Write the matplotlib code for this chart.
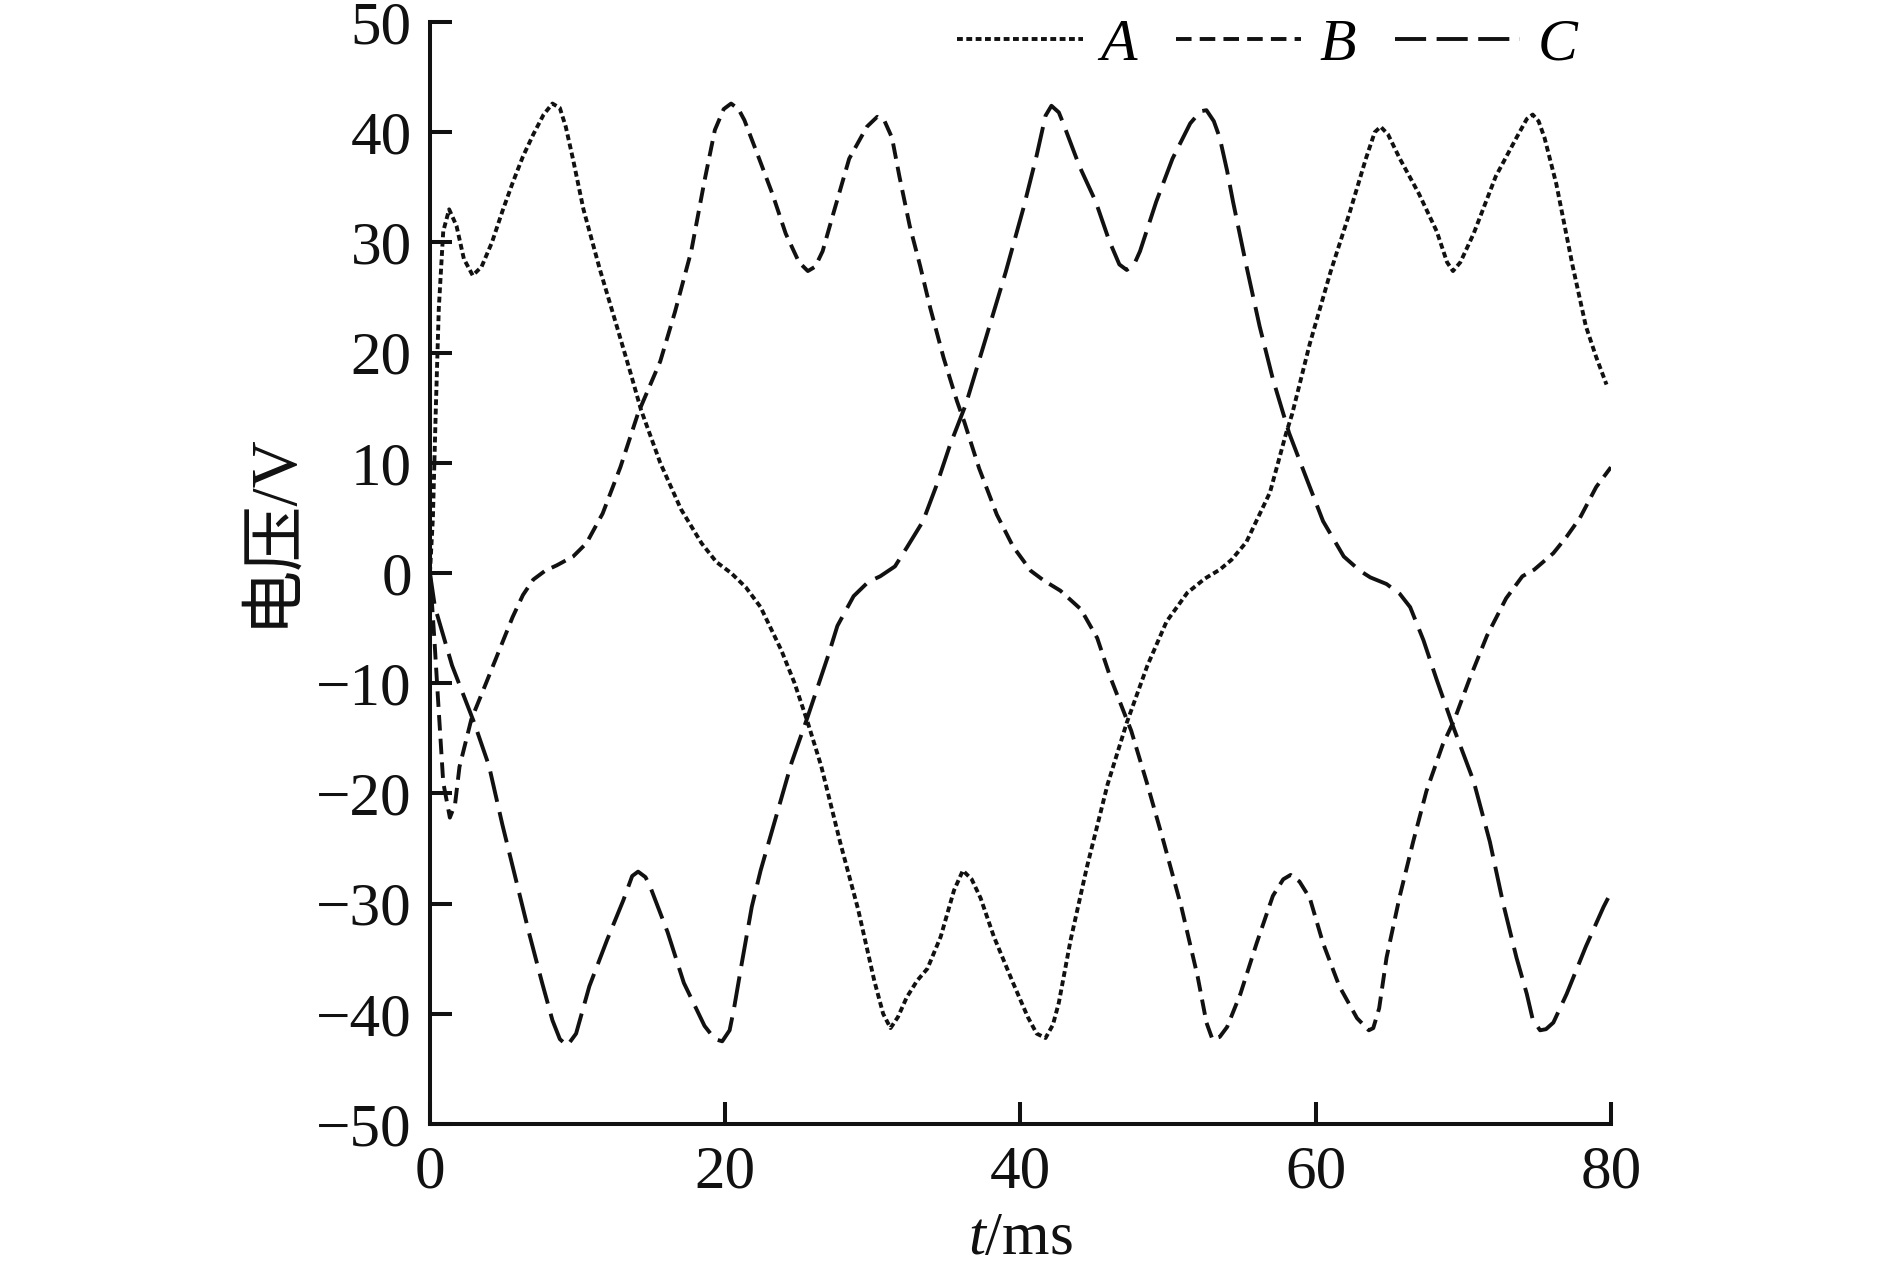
import matplotlib
matplotlib.use('Agg')
import matplotlib.pyplot as plt
from matplotlib.font_manager import FontProperties

# values, t in ms, voltage in V
a_t = [0, 0.2, 0.4, 0.6, 0.9, 1.3, 1.8, 2.3, 2.9, 3.5, 4.2, 4.9, 5.6, 6.3, 7.0, 7.7, 8.3, 8.8,
       9.2, 9.7, 10.4, 11.5, 12.7, 13.6, 14.3, 15.6, 17.0, 18.4, 19.4, 20.4, 21.4, 22.4, 23.8,
       24.7, 25.6, 26.5, 27.8, 29.0, 30.1, 30.7, 31.2, 31.7, 32.3, 33.0, 33.7, 34.6, 35.5, 36.1,
       36.7, 37.3, 38.2, 39.5, 40.5, 41.1, 41.7, 42.2, 42.6, 43.4, 44.5, 45.9, 47.2, 48.6, 49.9,
       51.3, 52.5, 53.5, 54.3, 55.3, 56.9, 58.0, 58.4, 59.6, 61.0, 62.3, 63.4, 64.0, 64.4, 64.9,
       65.7, 67.0, 68.2, 68.9, 69.3, 69.8, 70.7, 72.2, 73.6, 74.3, 74.7, 75.1, 75.5, 76.3, 77.4,
       78.3, 79.0, 79.7]
a_v = [0, 5, 15, 24, 31, 33, 31.5, 28.5, 27, 27.8, 30, 32.8, 35.4, 37.8, 39.8, 41.6, 42.6, 42.2,
       40.5, 37.5, 33, 27.6, 22.2, 18.1, 14.8, 10, 5.8, 2.7, 1.0, 0, -1.3, -3.1, -7,
       -10, -13.6, -17.5, -24.5, -30.5, -37, -40, -41.3, -40.3, -38.5, -37, -35.9, -33, -28.8, -27,
       -27.8, -29.5, -33, -37.2, -40.3, -41.8, -42.2, -41, -39, -33.3, -26.7, -19.2, -13.6, -8.4, -4.4,
       -1.8, -0.5, 0.3, 1.2, 2.8, 7.3, 12.7, 14.4, 20.8, 27.3, 32.7, 37.6, 40, 40.5, 39.8,
       37.6, 34.4, 31, 28.2, 27.4, 28.2, 30.8, 36, 39.5, 41.2, 41.6, 41.0, 39.5, 35.3, 27.9,
       22.4, 19.6, 17.1]

b_t = [0, 0.3, 0.55, 0.9, 1.35, 1.7, 2.0, 2.8, 3.8, 4.7, 5.6, 6.3, 7.0, 7.8, 8.6, 9.7, 10.6,
       11.7, 12.9, 14.1, 15.6, 16.6, 17.7, 18.6, 19.3, 19.9, 20.4, 20.9, 21.3, 22.3, 23.2, 24.1,
       25.0, 25.6, 26.1, 26.6, 27.3, 28.4, 29.6, 30.3, 30.8, 31.3, 31.8, 32.5, 33.2, 33.9, 34.8,
       35.7, 36.2, 37.2, 38.4, 39.5, 40.7, 41.6, 42.7, 44.1, 45.2, 46.1, 47.0, 47.5, 48.6, 49.7,
       50.9, 52.0, 52.6, 53.0, 53.5, 54.0, 54.9, 56.0, 57.1, 57.8, 58.3, 58.9, 59.6, 60.5, 61.6,
       62.8, 63.6, 63.9, 64.3, 64.8, 65.7, 66.6, 67.5, 68.6, 69.4, 70.4, 71.6, 72.9, 74.0, 74.8,
       76.1, 77.0, 77.9, 79.0, 80.0]
b_v = [0, -6, -11.5, -19, -22.2, -21, -17.6, -13.3, -10, -7, -4, -2, -0.6, 0.2, 0.7, 1.5, 2.7,
       5.4, 9.6, 14.5, 19.2, 23.7, 29.2, 35.6, 40.2, 42.1, 42.6, 42.1, 41.1, 37.6, 34.4, 30.8,
       28.2, 27.4, 27.8, 29.2, 32.5, 37.6, 40.5, 41.4, 41.0, 39.5, 36, 31.5, 27.9, 24, 19.5,
       15.6, 13.7, 9.5, 5.3, 2.4, 0.2, -0.7, -1.6, -3.3, -5.9, -9.5, -12.6, -14.3, -19.2, -24.4,
       -30.3, -36.6, -40.8, -42.3, -42.1, -41.2, -38.2, -33.6, -29.3, -27.8, -27.4, -28.0, -29.5, -33.6, -37.5,
       -40.4, -41.5, -41.3, -39.5, -34.9, -29.3, -24.4, -19.8, -15.6, -13.3, -9.7, -5.7, -2.3, -0.3, 0.3,
       1.8, 3.3, 5, 7.8, 9.6]

c_t = [0, 0.34, 1.5, 3.0, 4.0, 4.9, 5.8, 6.7, 7.6, 8.3, 8.8, 9.3, 9.9, 10.8, 12.0, 13.1, 13.7,
       14.1, 14.6, 14.9, 16.1, 17.2, 18.6, 19.3, 19.8, 20.3, 20.6, 21.1, 21.8, 22.4, 23.3, 24.5,
       25.6, 27.0, 27.6, 28.7, 29.7, 30.5, 31.5, 32.3, 33.4, 34.3, 35.2, 36.3, 37.7, 39.0, 40.2,
       41.1, 41.7, 42.1, 42.6, 42.9, 44.0, 45.1, 46.0, 46.7, 47.2, 47.7, 48.1, 49.2, 50.3, 51.5,
       52.2, 52.6, 53.1, 53.5, 54.0, 54.4, 55.3, 56.2, 57.1, 58.2, 59.4, 60.5, 61.9, 63.0, 63.7,
       64.8, 65.7, 66.4, 67.3, 68.2, 69.3, 70.7, 71.8, 72.7, 73.6, 74.3, 74.7, 75.2, 75.6, 76.1,
       77.0, 78.3, 79.5, 80.0]
c_v = [0, -3.1, -8.4, -13.6, -17.5, -22.8, -27.7, -32.6, -37.2, -40.6, -42.3, -42.9, -41.8, -37.5, -33.3, -29.7, -27.5,
       -27.1, -27.6, -28.4, -32.6, -37.2, -41.1, -42.3, -42.5, -41.5, -39.5, -35.6, -30.3, -27, -22.8, -17.2,
       -13, -7.4, -4.8, -2.1, -0.8, -0.3, 0.6, 2.3, 4.7, 7.9, 11.5, 15.3, 21.5, 27.3, 33.1,
       37.9, 41.5, 42.4, 41.8, 40.8, 36.9, 33.7, 30.2, 28, 27.5, 28.0, 29.2, 33.7, 37.6, 40.8,
       41.9, 42.0, 41.0, 39.5, 36.5, 33.7, 27.9, 22.4, 17.6, 12.7, 8.5, 4.7, 1.5, 0.2, -0.4,
       -1, -1.9, -3.1, -6.1, -9.7, -13.9, -18.9, -24.4, -30, -34.9, -38.2, -40.5, -41.5, -41.4, -40.8,
       -38.2, -33.9, -30.3, -29]

labels = ['A', 'B', 'C']
x_ticks = [0, 20, 40, 60, 80]
y_ticks = list(range(-50, 51, 10))

plt.rcParams['font.family'] = ['Liberation Serif', 'Noto Sans CJK SC']
plt.rcParams['mathtext.fontset'] = 'custom'
plt.rcParams['mathtext.rm'] = 'Liberation Serif'
plt.rcParams['mathtext.it'] = 'Liberation Serif:italic'

ink = '#111111'

fig = plt.figure(figsize=(18.89, 12.66), dpi=100)
ax = fig.add_axes([0.2276, 0.1122, 0.6252, 0.8704])

lw = 2.8
ax.plot(a_t, a_v, color=ink, lw=lw, dashes=(1.5, 0.9), label=labels[0])
ax.plot(b_t, b_v, color=ink, lw=lw, dashes=(4.0, 2.1), label=labels[1])
ax.plot(c_t, c_v, color=ink, lw=lw, dashes=(8.0, 2.7), label=labels[2])

ax.set_xlim(0, 80)
ax.set_ylim(-50, 50)
ax.set_xticks(x_ticks)
ax.set_yticks(y_ticks)

for side in ['top', 'right']:
    ax.spines[side].set_visible(False)
for side in ['left', 'bottom']:
    ax.spines[side].set_linewidth(2.9)
    ax.spines[side].set_color(ink)

ax.tick_params(direction='in', length=16, width=2.9, labelsize=44, color=ink,
               labelcolor=ink)
ax.tick_params(axis='y', pad=13)
ax.tick_params(axis='x', pad=15)

ax.set_xlabel(r'$t$/ms', fontsize=44, color=ink)
ax.xaxis.set_label_coords(0.5, -0.079)
ax.set_ylabel('电压/V', fontsize=47, color=ink)
ax.yaxis.set_label_coords(-0.108, 0.54)

leg = ax.legend(loc='center right', bbox_to_anchor=(0.972, 0.979), ncol=3, frameon=False,
                handlelength=2.1, handletextpad=0.3, columnspacing=0.65,
                borderpad=0, borderaxespad=0,
                prop=FontProperties(family='Liberation Serif', style='italic', size=43))

fig.savefig('out.png', dpi=100)
